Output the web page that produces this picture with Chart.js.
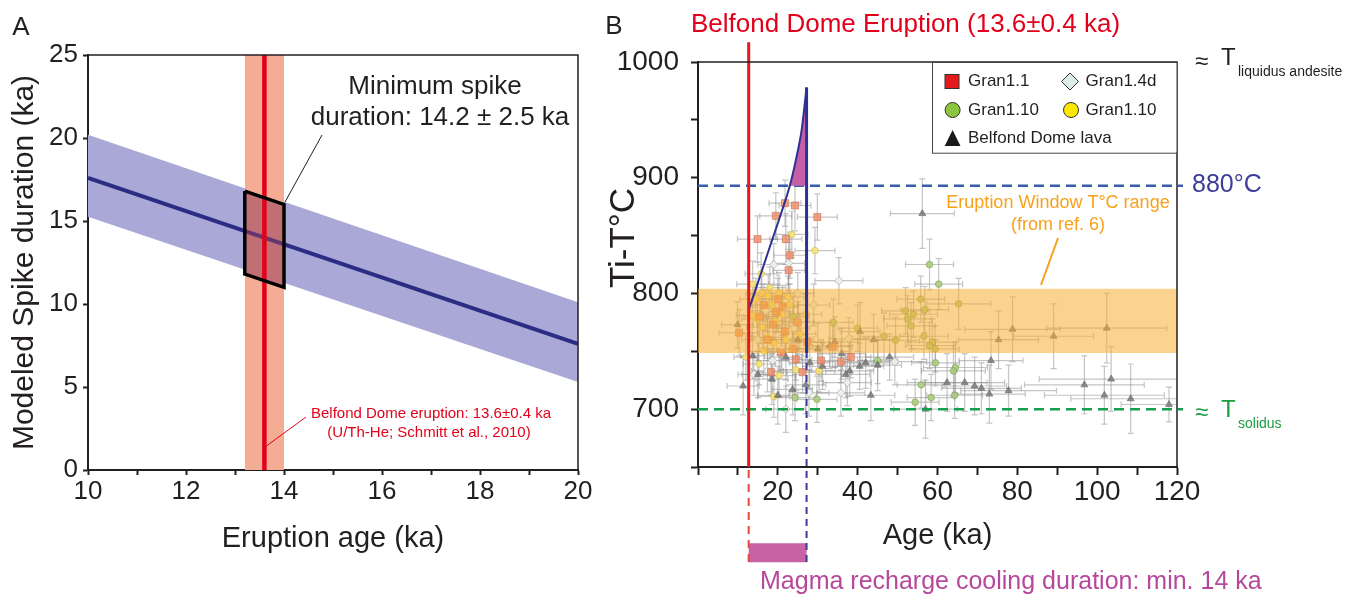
<!DOCTYPE html>
<html><head><meta charset="utf-8">
<script src="https://cdn.jsdelivr.net/npm/chart.js@4.4.0/dist/chart.umd.min.js"></script>
<style>
html,body{margin:0;padding:0;background:#fff;width:1350px;height:596px;overflow:hidden;}
#wrapA{position:absolute;left:0;top:0;width:600px;height:596px;}
#wrapB{position:absolute;left:600px;top:0;width:750px;height:596px;}
canvas{display:block;}
</style></head><body>
<div id="wrapA"><canvas id="cA" width="600" height="596"></canvas></div>
<div id="wrapB"><canvas id="cB" width="750" height="596"></canvas></div>
<script>
// ---------------- Panel A data ----------------
const eruptionAgeRange = [10, 20];
const spikeCenter = [17.6, 7.6];
const spikeUpper = [20.2, 10.1];
const spikeLower = [15.25, 5.3];
const eruptionAge = 13.6;
const eruptionAgeErr = 0.4;
const boxAges = [13.2, 14.0, 14.0, 13.2, 13.2];
const boxDurations = [16.8, 16.0, 11.0, 11.8, 16.8];
const xTickLabelsA = [10, 12, 14, 16, 18, 20];
const yTickLabelsA = [0, 5, 10, 15, 20, 25];

// ---------------- Panel B data ----------------
const xTickLabelsB = [20, 40, 60, 80, 100, 120];
const yTickLabelsB = [700, 800, 900, 1000];
const eruptionAgeB = 12.7;
const rechargeAge = 27.2;
const rechargeTopT = 978;
const windowLowT = 748.5;
const windowHighT = 804;
const spikeT = 893;
const solidusT = 700;
const curveAge = [12.7, 14.0, 15.75, 18.75, 21.0, 23.0, 24.5, 26.0, 27.2];
const curveT = [786, 799, 817, 848, 871, 893, 915, 942, 978];
const polyAge = [23.0, 24.5, 26.0, 27.2, 27.2, 23.0];
const polyT = [893, 915, 942, 978, 893, 893];
const barBelowAxisT = 576;       // cooling-duration bar level (below axis)
const lineBottomT = 568;          // dashed guide lines end
const lineTopT = 1017;            // red line top end
const dashedLineEndAge = 121.5;

// [age, T, ageErr, Terr]
const gran11 = [
 [21.8,878,4,20],[24.3,876,4,22],[19.5,867,4,20],[29.9,866,5,20],[14.9,847,5,20],[22,847,4,22],
 [23,833,4,20],[22.7,820,4,18],[21.2,789,4,18],[19.7,784,4,18],[10.3,766,5,20],[18.8,773,4,18],
 [21.8,767,4,18],[20.8,749,4,18],[23.7,752,4,18],[24.5,743,4,18],[30.8,742,5,18],[35.8,741,5,18],
 [38.3,745,5,18],[33.7,754,5,18],[26.2,732,4,18],[18.3,732,4,20],[27.4,758,4,18],[16.5,790,4,18],
 [17.5,760,4,18],[25,775,4,18],[20,795,4,18],[15.5,780,4,18]
];
const gran14d = [
 [35.3,811,6,20],[19,825,4,18],[22.7,826,4,18],[37.8,761,5,18],[49.3,741,8,20],[37.4,723,6,20],
 [35.8,714,6,20],[18.7,742,4,18],[17.4,733,4,18],[22,700,5,20],[27.8,714,5,20],[20,790,4,18],
 [24,770,4,18],[17,785,4,18],[25,800,4,18],[29,790,4,18],[21,752,4,18],[15,760,4,18],[14,730,4,18]
];
const gran110green = [
 [33.9,775,5,20],[46.6,763,6,20],[49.5,759.5,6,20],[52,785,6,20],[29.8,708.5,5,20],[24.3,710,5,20],
 [23.8,780,4,18],[58,825,6,22],[60.3,808,6,22],[65.3,791,8,22],[55.8,795,6,20],[54,782,6,20],
 [56.8,786,6,20],[52.5,778,6,20],[53.4,772,6,20],[56.6,763,6,20],[58.7,758,6,20],[58,755,6,20],
 [59.4,752,6,20],[59.5,740,6,20],[64.5,736,8,22],[64,733,8,22],[55.9,721,6,20],[58.4,710,6,20],
 [64.3,712,7,20],[54.4,706,6,20],[40,770,5,20],[45,742,5,20]
];
const gran110yellow = [
 [23.5,851,4,20],[29.3,837,5,20],[13.7,808,4,20],[15.8,817,4,18],[17.6,798,4,18],[20.3,800,4,18],
 [22.6,797,4,18],[16.2,771,4,18],[17.4,762,4,18],[15.3,739,4,18],[20.3,729,4,18],[30.3,733,4,18],
 [19,711,4,18],[24.5,734,4,18],[13.6,781,4,18],[14.9,778,4,18],[18.5,790,4,18],[19.5,776,4,18],
 [21,782,4,18],[16,800,4,18],[14.5,795,4,18],[18,805,4,18],[23,790,4,18],[25.5,765,4,18],
 [19,757,4,18],[16.5,750,4,18],[22,760,4,18],[27,782,4,18],[12,745,3,20]
];
const belfondLava = [
 [9.9,773,4,20],[11.3,720,4,25],[13.7,746,3,20],[15,730,4,20],[18.5,726,4,22],[20,712,5,25],
 [22,745,4,20],[23.7,717,5,22],[25,760,4,20],[27,721,5,25],[28,740,5,22],[30,752,5,22],
 [31.2,737,5,20],[33,755,5,20],[34.3,758,6,22],[36,748,6,22],[37,730,6,20],[38,733,6,22],
 [40.5,737,6,20],[40.6,767,5,25],[42,740,6,22],[43.3,712,6,22],[44,760,6,22],[45,738,6,22],
 [48,745,6,20],[56.2,869,8,30],[57,700,8,25],[62.4,723,10,25],[66.8,723,10,25],[69.3,720,8,25],
 [71,718,10,22],[73,713,9,25],[73.4,742,8,25],[75.3,760,10,25],[77.8,716,12,22],[78.8,769,12,28],
 [89.1,763,10,28],[96.8,721,15,25],[101.8,712,15,25],[102.4,770,15,30],[103.5,726,18,28],
 [108.4,709,15,30],[118,704,12,15]
];

const FONT = "'Liberation Sans', Arial, Helvetica, sans-serif";
const INK = '#231f20';
const pts = (xs, ys) => xs.map((x, i) => ({x, y: ys[i]}));
const sc = arr => arr.map(r => ({x: r[0], y: r[1]}));

function text(ctx, s, x, y, size, color, align, base) {
  ctx.font = size + 'px ' + FONT;
  ctx.fillStyle = color;
  ctx.textAlign = align || 'left';
  ctx.textBaseline = base || 'middle';
  ctx.fillText(s, x, y);
}
function line(ctx, x1, y1, x2, y2, color, w) {
  ctx.beginPath(); ctx.moveTo(x1, y1); ctx.lineTo(x2, y2);
  ctx.strokeStyle = color; ctx.lineWidth = w; ctx.setLineDash([]); ctx.stroke();
}

// ================= Chart A =================
const annotA = {
  id: 'annotA',
  afterDatasetsDraw(chart) {
    const {ctx, chartArea: ca} = chart;
    ctx.save();
    ctx.strokeStyle = INK; ctx.lineWidth = 1.5;
    ctx.beginPath(); ctx.moveTo(ca.left, ca.top); ctx.lineTo(ca.right, ca.top); ctx.lineTo(ca.right, ca.bottom); ctx.stroke();
    text(ctx, 'A', 21, 28, 26, INK, 'center');
    text(ctx, 'Minimum spike', 435, 87, 26, INK, 'center');
    text(ctx, 'duration: 14.2 \u00b1 2.5 ka', 440, 118, 26, INK, 'center');
    line(ctx, 322, 135, 285, 202, INK, 1);
    text(ctx, 'Belfond Dome eruption: 13.6\u00b10.4 ka', 431, 414, 15, '#e2001a', 'center');
    text(ctx, '(U/Th-He; Schmitt et al., 2010)', 429, 433, 15, '#e2001a', 'center');
    line(ctx, 265, 447, 306, 417, '#e2001a', 1);
    ctx.restore();
  }
};

new Chart(document.getElementById('cA'), {
  type: 'line',
  data: { datasets: [
    { data: pts(boxAges, boxDurations), borderColor: '#000', borderWidth: 3.5, pointRadius: 0, fill: false, tension: 0, borderJoinStyle: 'miter' },
    { data: [{x: eruptionAge, y: 0}, {x: eruptionAge, y: 25}], borderColor: '#e2001a', borderWidth: 4.5, pointRadius: 0, fill: false },
    { data: pts(boxAges, boxDurations), borderColor: 'transparent', borderWidth: 0, pointRadius: 0, fill: 'shape', backgroundColor: 'rgba(150,60,90,0.55)' },
    { data: pts(eruptionAgeRange, spikeCenter), borderColor: '#2b2d85', borderWidth: 4, pointRadius: 0, fill: false },
    { data: [{x: eruptionAge - eruptionAgeErr, y: 25}, {x: eruptionAge + eruptionAgeErr, y: 25}], borderColor: 'transparent', borderWidth: 0, pointRadius: 0, fill: 'origin', backgroundColor: '#f4ad94' },
    { data: pts(eruptionAgeRange, spikeUpper), borderColor: 'transparent', borderWidth: 0, pointRadius: 0, fill: '+1', backgroundColor: '#a9a8d6' },
    { data: pts(eruptionAgeRange, spikeLower), borderColor: 'transparent', borderWidth: 0, pointRadius: 0, fill: false }
  ]},
  options: {
    responsive: false, animation: false, devicePixelRatio: 1,
    layout: {padding: {left: 0, top: 55, right: 22, bottom: 0}},
    plugins: {legend: {display: false}, tooltip: {enabled: false}},
    scales: {
      x: {
        type: 'linear', min: 10, max: 20, z: 1,
        ticks: {stepSize: 1, padding: 1, autoSkip: false, maxRotation: 0, color: INK, font: {family: FONT, size: 26},
                callback: v => xTickLabelsA.includes(v) ? String(v) : ''},
        grid: {drawOnChartArea: false, drawTicks: true, tickLength: 5, tickWidth: 2, tickColor: INK},
        border: {display: true, color: INK, width: 2},
        title: {display: true, text: 'Eruption age (ka)', color: INK, font: {family: FONT, size: 29}, padding: {top: 0, bottom: 40}},
        afterFit(s) { s.height = 126; }
      },
      y: {
        type: 'linear', min: 0, max: 25, z: 1,
        ticks: {stepSize: 5, padding: 5, color: INK, font: {family: FONT, size: 26},
                callback: v => yTickLabelsA.includes(v) ? String(v) : ''},
        grid: {drawOnChartArea: false, drawTicks: true, tickLength: 5, tickWidth: 2, tickColor: INK},
        border: {display: true, color: INK, width: 2},
        title: {display: true, text: 'Modeled Spike duration (ka)', color: INK, font: {family: FONT, size: 30}, padding: {top: 7, bottom: 0}},
        afterFit(s) { s.width = 88; }
      }
    }
  },
  plugins: [annotA]
});

// ================= Chart B =================
const allSeries = [belfondLava, gran110green, gran14d, gran110yellow, gran11];
const errBars = {
  id: 'errBars',
  beforeDatasetsDraw(chart) {
    const {ctx, chartArea: ca, scales: {x, y}} = chart;
    ctx.save();
    ctx.beginPath(); ctx.rect(ca.left, ca.top, ca.width, ca.height); ctx.clip();
    ctx.strokeStyle = 'rgba(140,140,140,0.5)'; ctx.lineWidth = 1.2;
    for (const s of allSeries) for (const [a, t, ea, et] of s) {
      const px = x.getPixelForValue(a), py = y.getPixelForValue(t);
      const x0 = x.getPixelForValue(a - ea), x1 = x.getPixelForValue(a + ea);
      const y0 = y.getPixelForValue(t - et), y1 = y.getPixelForValue(t + et);
      ctx.beginPath();
      ctx.moveTo(x0, py); ctx.lineTo(x1, py);
      ctx.moveTo(px, y0); ctx.lineTo(px, y1);
      ctx.moveTo(x0, py - 3); ctx.lineTo(x0, py + 3);
      ctx.moveTo(x1, py - 3); ctx.lineTo(x1, py + 3);
      ctx.moveTo(px - 3, y0); ctx.lineTo(px + 3, y0);
      ctx.moveTo(px - 3, y1); ctx.lineTo(px + 3, y1);
      ctx.stroke();
    }
    ctx.restore();
  }
};

const annotB = {
  id: 'annotB',
  afterDatasetsDraw(chart) {
    const {ctx, chartArea: ca} = chart;
    ctx.save();
    ctx.strokeStyle = INK; ctx.lineWidth = 1.5;
    ctx.beginPath(); ctx.moveTo(ca.left, ca.top); ctx.lineTo(ca.right, ca.top); ctx.lineTo(ca.right, ca.bottom); ctx.stroke();
    // legend
    const lx = 332.5, ly = 62, lw = ca.right - lx, lh = 90.7;
    ctx.fillStyle = '#fff'; ctx.fillRect(lx, ly, lw, lh);
    ctx.strokeStyle = '#444'; ctx.lineWidth = 1; ctx.strokeRect(lx, ly + 0.5, lw, lh);
    ctx.lineWidth = 1; ctx.strokeStyle = '#333';
    ctx.fillStyle = '#e41a1c'; ctx.fillRect(345, 74.5, 14, 14); ctx.strokeRect(345, 74.5, 14, 14);
    ctx.beginPath(); ctx.moveTo(470, 73); ctx.lineTo(478.5, 81.5); ctx.lineTo(470, 90); ctx.lineTo(461.5, 81.5); ctx.closePath();
    ctx.fillStyle = '#dcecea'; ctx.fill(); ctx.stroke();
    ctx.beginPath(); ctx.arc(352.6, 110, 7.5, 0, Math.PI * 2); ctx.fillStyle = '#8cc63e'; ctx.fill(); ctx.stroke();
    ctx.beginPath(); ctx.arc(471, 110, 7.5, 0, Math.PI * 2); ctx.fillStyle = '#ffe800'; ctx.fill(); ctx.stroke();
    ctx.beginPath(); ctx.moveTo(352.6, 130); ctx.lineTo(360.5, 146); ctx.lineTo(344.7, 146); ctx.closePath(); ctx.fillStyle = '#1a1a1a'; ctx.fill();
    text(ctx, 'Gran1.1', 368, 81.5, 17, INK);
    text(ctx, 'Gran1.4d', 485.6, 81.5, 17, INK);
    text(ctx, 'Gran1.10', 368, 110, 17, INK);
    text(ctx, 'Gran1.10', 485.6, 110, 17, INK);
    text(ctx, 'Belfond Dome lava', 368, 138, 17, INK);
    // axis title (drawn manually to match reference placement)
    ctx.save();
    ctx.translate(24, 238);
    ctx.rotate(-Math.PI / 2);
    text(ctx, 'Ti-T\u00b0C', 0, 0, 35, INK, 'center');
    ctx.restore();
    // labels
    text(ctx, 'B', 14, 27, 26, INK, 'center');
    text(ctx, 'Belfond Dome Eruption (13.6\u00b10.4 ka)', 91, 25, 26, '#e2001a');
    text(ctx, '\u2248', 601.5, 62, 24, INK, 'center');
    text(ctx, 'T', 621, 58, 24, INK);
    text(ctx, 'liquidus andesite', 638, 72, 14, INK);
    text(ctx, '880\u00b0C', 592, 185, 25, '#3a3d99');
    text(ctx, '\u2248', 601.5, 413, 24, '#1a9e3f', 'center');
    text(ctx, 'T', 621, 410, 24, '#1a9e3f');
    text(ctx, 'solidus', 638, 424, 14, '#1a9e3f');
    text(ctx, 'Eruption Window T\u00b0C range', 458, 203, 18, '#f7a11a', 'center');
    text(ctx, '(from ref. 6)', 458, 225, 18, '#f7a11a', 'center');
    line(ctx, 458, 238, 441, 285, '#f7a11a', 2);
    text(ctx, 'Magma recharge cooling duration: min. 14 ka', 160, 582, 25, '#b6489c');
    ctx.restore();
  }
};

const lineDS = (data, color, width, dash, extra) => Object.assign({
  data, borderColor: color, borderWidth: width, borderDash: dash || [], pointRadius: 0, fill: false, showLine: true, clip: false, tension: 0
}, extra || {});
const ptDS = (arr, style, r, bg, bc) => ({
  data: sc(arr), showLine: false, pointStyle: style, pointRadius: r, backgroundColor: bg, borderColor: bc, pointBorderWidth: 1, fill: false
});

new Chart(document.getElementById('cB'), {
  type: 'line',
  data: { datasets: [
    lineDS([{x: eruptionAgeB, y: 650}, {x: eruptionAgeB, y: lineTopT}], '#e31a1c', 3),
    lineDS([{x: eruptionAgeB, y: lineBottomT}, {x: eruptionAgeB, y: 650}], '#e8473c', 2, [8, 6]),
    lineDS([{x: rechargeAge, y: windowLowT}, {x: rechargeAge, y: rechargeTopT}], '#2e3192', 3),
    lineDS([{x: rechargeAge, y: lineBottomT}, {x: rechargeAge, y: windowLowT}], '#3a3d99', 2, [7, 5]),
    lineDS([{x: eruptionAgeB, y: barBelowAxisT}, {x: rechargeAge, y: barBelowAxisT}], '#c962a4', 19, [], {borderCapStyle: 'butt'}),
    lineDS(pts(curveAge, curveT), '#2e3192', 2, [], {cubicInterpolationMode: 'monotone', clip: undefined}),
    lineDS(pts(polyAge, polyT), 'transparent', 0, [], {fill: 'shape', backgroundColor: '#c560a8'}),
    lineDS([{x: 0, y: spikeT}, {x: dashedLineEndAge, y: spikeT}], '#3b5bab', 2.5, [10, 6]),
    lineDS([{x: 0, y: solidusT}, {x: dashedLineEndAge, y: solidusT}], '#17a04a', 2.5, [10, 6]),
    lineDS([{x: 0, y: windowHighT}, {x: 120, y: windowHighT}], 'transparent', 0, [], {fill: {value: windowLowT}, backgroundColor: 'rgba(250,175,50,0.55)'}),
    ptDS(gran11, 'rect', 5, 'rgba(240,140,100,0.8)', 'rgba(200,110,90,0.6)'),
    ptDS(belfondLava, 'triangle', 4, 'rgba(110,110,110,0.75)', 'rgba(100,100,100,0.6)'),
    ptDS(gran110yellow, 'circle', 3.3, 'rgba(248,228,120,0.9)', 'rgba(200,180,80,0.6)'),
    ptDS(gran110green, 'circle', 3.3, 'rgba(170,205,120,0.85)', 'rgba(120,150,80,0.6)'),
    ptDS(gran14d, 'rectRot', 4.2, 'rgba(238,244,238,0.9)', 'rgba(160,170,160,0.7)')
  ]},
  options: {
    responsive: false, animation: false, devicePixelRatio: 1,
    layout: {padding: {left: 0, top: 62, right: 173, bottom: 0}},
    plugins: {legend: {display: false}, tooltip: {enabled: false}},
    scales: {
      x: {
        type: 'linear', min: 0, max: 120, z: 1,
        ticks: {stepSize: 10, padding: 0, autoSkip: false, maxRotation: 0, color: INK, font: {family: FONT, size: 28},
                callback: v => xTickLabelsB.includes(v) ? String(v) : ''},
        grid: {drawOnChartArea: false, drawTicks: true, tickLength: 8, tickWidth: 2, tickColor: INK},
        border: {display: true, color: INK, width: 2},
        title: {display: true, text: 'Age (ka)', color: INK, font: {family: FONT, size: 29}, padding: {top: 0, bottom: 43}},
        afterFit(s) { s.height = 129; }
      },
      y: {
        type: 'linear', min: 650, max: 1000, z: 1,
        ticks: {stepSize: 50, padding: 12, color: INK, font: {family: FONT, size: 28},
                callback: v => yTickLabelsB.includes(v) ? String(v) : ''},
        grid: {drawOnChartArea: false, drawTicks: true, tickLength: 7, tickWidth: 2, tickColor: INK},
        border: {display: true, color: INK, width: 2},
        title: {display: false},
        afterFit(s) { s.width = 98; }
      }
    }
  },
  plugins: [errBars, annotB]
});
</script>
</body></html>
